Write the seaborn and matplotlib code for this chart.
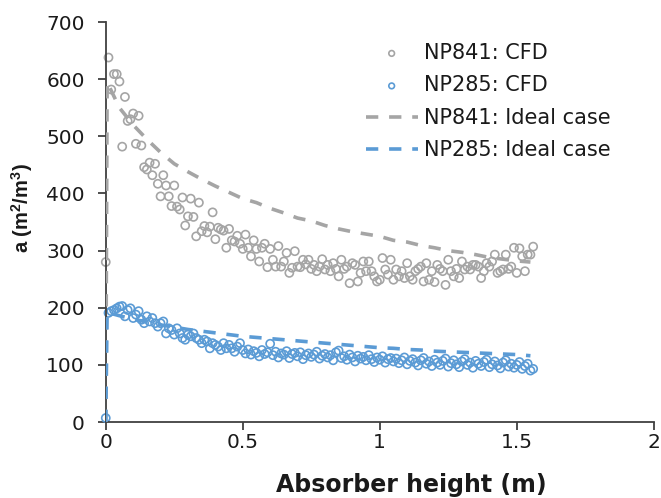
import matplotlib
matplotlib.use("Agg")
import matplotlib.pyplot as plt
import seaborn as sns
import pandas as pd

# ---- data ----
height = [round(i * 0.01, 2) for i in range(157)]  # CFD cell positions (m), 0.00 .. 1.56

np841_cfd = [280, 638, 582, 609, 609, 596, 482, 569, 527, 530,
             540, 487, 536, 484, 446, 442, 454, 432, 452, 417,
             395, 432, 414, 395, 378, 414, 377, 372, 393, 344,
             360, 391, 359, 325, 384, 334, 343, 332, 342, 367,
             320, 340, 337, 335, 305, 338, 318, 316, 326, 312,
             303, 328, 305, 290, 318, 303, 281, 305, 312, 271,
             303, 284, 272, 308, 272, 281, 296, 261, 270, 299,
             272, 271, 284, 276, 284, 268, 275, 264, 272, 285,
             267, 275, 264, 278, 268, 255, 284, 268, 272, 243,
             278, 275, 246, 261, 281, 264, 281, 264, 255, 246,
             249, 287, 267, 258, 284, 249, 267, 255, 264, 252,
             278, 255, 249, 264, 268, 272, 246, 278, 249, 264,
             245, 275, 268, 264, 240, 284, 264, 255, 268, 252,
             281, 267, 272, 267, 275, 275, 272, 252, 264, 278,
             272, 281, 293, 261, 264, 267, 293, 268, 272, 305,
             261, 304, 290, 264, 293, 293, 307]

np285_cfd = [7, 191, 194, 196, 199, 202, 203, 185, 196, 199,
             182, 188, 194, 179, 173, 185, 176, 182, 173, 167,
             173, 176, 155, 164, 161, 153, 164, 155, 147, 144,
             153, 150, 155, 147, 144, 138, 144, 141, 129, 138,
             135, 132, 126, 138, 129, 135, 129, 123, 132, 138,
             126, 120, 127, 118, 124, 121, 115, 126, 119, 122,
             137, 117, 123, 113, 120, 118, 124, 112, 119, 121,
             115, 122, 110, 117, 120, 114, 118, 123, 111, 116,
             119, 113, 117, 108, 122, 125, 112, 115, 109, 118,
             113, 106, 116, 111, 114, 108, 117, 110, 105, 113,
             109, 115, 104, 110, 112, 106, 111, 103, 108, 113,
             101, 107, 110, 104, 99, 108, 112, 102, 106, 98,
             109, 104, 100, 107, 111, 97, 103, 108, 101, 96,
             106, 110, 100, 104, 95, 107, 102, 98, 105, 109,
             96, 101, 106, 99, 94, 104, 108, 97, 102, 95,
             100, 105, 93, 98, 102, 90, 93]

ideal_height = [0, 0.005, 0.05, 0.1, 0.15, 0.2, 0.25, 0.3, 0.35, 0.4,
                0.45, 0.5, 0.55, 0.6, 0.65, 0.7, 0.75, 0.8, 0.85, 0.9,
                0.95, 1.0, 1.05, 1.1, 1.15, 1.2, 1.25, 1.3, 1.35, 1.4,
                1.45, 1.5, 1.55]
np841_ideal = [0, 595, 550, 520, 495, 472, 452, 438, 425, 413,
               402, 391, 384, 374, 366, 357, 352, 344, 338, 333,
               329, 325, 318, 315, 309, 305, 300, 297, 293, 288,
               285, 282, 280]
np285_ideal = [0, 192, 186, 180, 175, 170, 166, 162, 159, 156,
               153, 150, 148, 146, 144, 142, 140, 138, 136, 134,
               132, 130, 129, 127, 126, 124, 123, 122, 121, 120,
               119, 118, 116]

x_ticks = [0, 0.5, 1, 1.5, 2]
x_tick_labels = ["0", "0.5", "1", "1.5", "2"]
y_ticks = [0, 100, 200, 300, 400, 500, 600, 700]

labels = ["NP841: CFD", "NP285: CFD", "NP841: Ideal case", "NP285: Ideal case"]

GRAY = "#A5A5A5"
BLUE = "#5B9BD5"
TXT = "#1a1a1a"

sns.set_theme(style="white")
plt.rcParams["font.family"] = ["DejaVu Sans"]

cfd = pd.DataFrame({"h": height, "NP841": np841_cfd, "NP285": np285_cfd})
ideal = pd.DataFrame({"h": ideal_height, "NP841": np841_ideal, "NP285": np285_ideal})

fig = plt.figure(figsize=(6.61, 4.98), dpi=100)
ax = fig.add_axes([0.160, 0.1526, 0.829, 0.803])

dash = (0, (3.4, 3.0))
sns.scatterplot(data=cfd, x="h", y="NP841", ax=ax, marker="o", s=34,
                facecolor="none", edgecolor=GRAY, linewidth=1.2,
                label=labels[0], clip_on=False, zorder=2)
sns.scatterplot(data=cfd, x="h", y="NP285", ax=ax, marker="o", s=34,
                facecolor="none", edgecolor=BLUE, linewidth=1.2,
                label=labels[1], clip_on=False, zorder=2)
sns.lineplot(data=ideal, x="h", y="NP841", ax=ax, color=GRAY, lw=2.6,
             linestyle=dash, estimator=None, sort=False, label=labels[2], zorder=3)
sns.lineplot(data=ideal, x="h", y="NP285", ax=ax, color=BLUE, lw=2.6,
             linestyle=dash, estimator=None, sort=False, label=labels[3], zorder=3)

ax.set_xlim(0, 2)
ax.set_ylim(0, 700)
ax.set_xticks(x_ticks)
ax.set_xticklabels(x_tick_labels)
ax.set_yticks(y_ticks)
ax.tick_params(axis="both", which="major", direction="out", length=6, width=1.3,
               color="#404040", labelsize=14.5, labelcolor=TXT,
               left=True, bottom=True)
ax.tick_params(axis="y", pad=9)
ax.tick_params(axis="x", pad=2)
for side in ["top", "right"]:
    ax.spines[side].set_visible(False)
for side in ["left", "bottom"]:
    ax.spines[side].set_color("#404040")
    ax.spines[side].set_linewidth(1.3)

ax.set_xlabel("Absorber height (m)", fontsize=17, fontweight="bold", color=TXT)
ax.xaxis.set_label_coords(0.558, -0.128)
ax.set_ylabel("a (m$^\\mathregular{2}$/m$^\\mathregular{3}$)", fontsize=14.5, fontweight="bold",
              color=TXT, family=["Liberation Sans", "DejaVu Sans"])
ax.yaxis.set_label_coords(-0.13, 0.535)

handles, labs = ax.get_legend_handles_labels()
order = [labs.index(l) for l in labels]
leg = ax.legend([handles[i] for i in order], [labs[i] for i in order],
                frameon=False, loc="upper left", bbox_to_anchor=(0.44, 0.995),
                fontsize=15, handlelength=2.5, handletextpad=0.3,
                labelspacing=0.6, markerscale=0.7)
for t in leg.get_texts():
    t.set_color(TXT)

fig.savefig("out.png", dpi=100)
